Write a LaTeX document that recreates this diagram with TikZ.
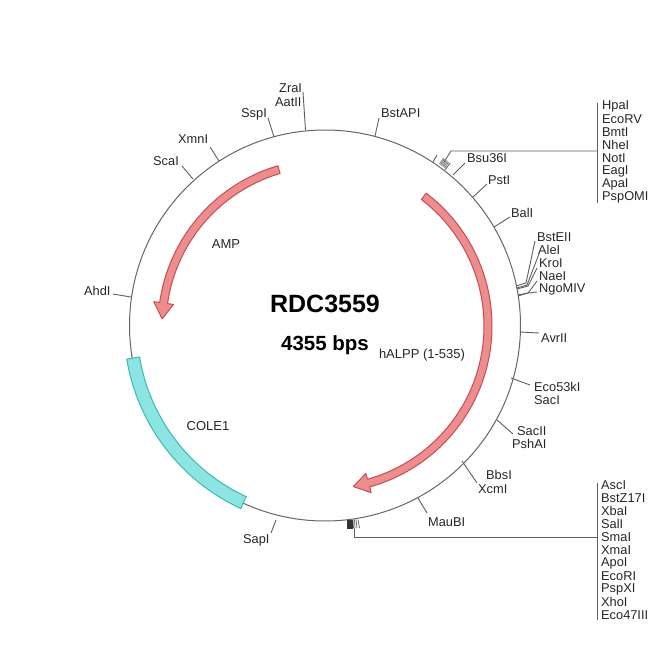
\documentclass[tikz,border=0pt]{standalone}
\usepackage{fontspec}
\setmainfont{Liberation Sans}
\definecolor{ringc}{HTML}{666666}
\definecolor{tickc}{HTML}{5F5F5F}
\definecolor{redfill}{HTML}{EC8E8E}
\definecolor{redline}{HTML}{CB4A54}
\definecolor{tealfill}{HTML}{8CE5E2}
\definecolor{tealline}{HTML}{3DB8B4}
\tikzset{
  x=1pt,y=-1pt,
  ring/.style={draw=ringc,line width=1pt},
  tick/.style={draw=tickc,line width=0.9pt},
  site/.style={font=\fontsize{12.8}{15}\selectfont,text=black!85,inner sep=0pt,anchor=west},
  featlabel/.style={font=\fontsize{13}{15}\selectfont,text=black!85,inner sep=0pt},
  feat/.style={draw=redline,fill=redfill,line width=1pt,line join=round},
  ori/.style={draw=tealline,fill=tealfill,line width=1pt,line join=miter},
  title/.style={font=\bfseries\fontsize{25}{28}\selectfont,inner sep=0pt},
  subtitle/.style={font=\bfseries\fontsize{20.5}{24}\selectfont,inner sep=0pt},
}
\newcommand{\sitetick}[5]{\coordinate (#1a) at (#2,#3); \coordinate (#1b) at (#4,#5); \draw[tick] (#1a) -- (#1b);}
\begin{document}
\begin{tikzpicture}
\useasboundingbox (0,0) rectangle (650,650);
\fill[white] (0,0) rectangle (650,650);
% ring
\draw[ring] (325,325.5) circle[radius=195.5];
% AMP arrow
\draw[feat] plot[domain=253.6:188.1,samples=50] ({325+167*cos(\x)},{326+167*sin(\x)})
  -- ({325+173*cos(188.1)},{326+173*sin(188.1)})
  -- ({325+163*cos(182.5)},{326+163*sin(182.5)})
  -- ({325+153*cos(188.1)},{326+153*sin(188.1)})
  -- ({325+159*cos(188.1)},{326+159*sin(188.1)})
  -- plot[domain=188.1:253.6,samples=50] ({325+159*cos(\x)},{326+159*sin(\x)}) -- cycle;
% hALPP arrow
\draw[feat] plot[domain=-52.7:74.5,samples=90] ({325+167*cos(\x)},{326+167*sin(\x)})
  -- ({325+173*cos(74.5)},{326+173*sin(74.5)})
  -- ({325+163*cos(80)},{326+163*sin(80)})
  -- ({325+153*cos(74.5)},{326+153*sin(74.5)})
  -- ({325+159*cos(74.5)},{326+159*sin(74.5)})
  -- plot[domain=74.5:-52.7,samples=90] ({325+159*cos(\x)},{326+159*sin(\x)}) -- cycle;
% COLE1
\draw[ori] plot[domain=170.5:114.8,samples=50] ({325+201*cos(\x)},{326+201*sin(\x)})
  -- plot[domain=114.8:170.5,samples=50] ({325+188*cos(\x)},{326+188*sin(\x)}) -- cycle;
% centre text
\node[title] (name) at (325,304) {RDC3559};
\node[subtitle] (size) at (325,345) {4355 bps};
\node[featlabel] (amp) at (226,244) {AMP};
\node[featlabel] (halpp) at (422,355) {hALPP (1-535)};
\node[featlabel] (cole) at (208,426) {COLE1};
% single sites
\sitetick{zr}{305.5}{130}{303}{92}
\node[site] (zra) at (279,88) {ZraI};
\node[site] (aat) at (275,102) {AatII};
\sitetick{ss}{274}{137}{268}{118}
\node[site] (ssp) at (241,114) {SspI};
\sitetick{xm}{219}{161}{210}{147}
\node[site] (xmn) at (178,139) {XmnI};
\sitetick{sc}{193}{179}{182}{166}
\node[site] (sca) at (153,161) {ScaI};
\sitetick{ah}{131}{297}{113}{294}
\node[site] (ahd) at (84,291) {AhdI};
\sitetick{bs}{375}{136}{379}{118}
\node[site] (bst) at (381,113) {BstAPI};
\sitetick{bu}{453}{175}{465}{163}
\node[site] (bsu) at (467,158) {Bsu36I};
\sitetick{ps}{473}{197}{487}{184}
\node[site] (pst) at (488,180) {PstI};
\sitetick{ba}{494}{227}{510}{217}
\node[site] (bal) at (511,213) {BalI};
\sitetick{av}{520}{332}{539}{333}
\node[site] (avr) at (541,338) {AvrII};
\sitetick{ec}{511}{378}{530}{385}
\node[site] (eco) at (534,387) {Eco53kI};
\node[site] (sac) at (534,400) {SacI};
\sitetick{sa}{497}{420}{513}{434}
\node[site] (sacii) at (517,431) {SacII};
\node[site] (psh) at (512,444) {PshAI};
\sitetick{bb}{462}{461}{477}{483}
\node[site] (bbs) at (486,475) {BbsI};
\node[site] (xcm) at (478,489) {XcmI};
\sitetick{ma}{418}{498}{427}{513}
\node[site] (mau) at (428,522) {MauBI};
\sitetick{sp}{276}{520}{271}{533}
\node[site] (sap) at (243,540) {SapI};
% right cluster
\draw[tick] (516,286) -- (526,283) -- (535,241);
\draw[tick] (517,288) -- (527,285) -- (539,254);
\draw[tick] (517,289) -- (528,286) -- (537,268);
\draw[tick] (518,295) -- (528,293) -- (537,281);
\draw[tick] (518,296) -- (528,293) -- (537,292);
\node[site] (bste) at (537,237) {BstEII};
\node[site] (ale) at (538,250) {AleI};
\node[site] (kro) at (539,263) {KroI};
\node[site] (nae) at (539,276) {NaeI};
\node[site] (ngo) at (539,289) {NgoMIV};
% top multi group
\draw[tick] (433,162) -- (437,155);
\foreach \d in {0,1,...,5}
  \draw[tick,draw=tickc!75] ({439.5+\d},{164+0.8*\d}) -- ({443.5+\d},{158+0.8*\d});
\draw[tick] (445,170) -- (450,163);
\coordinate (topa) at (444,162);
\coordinate (topb) at (451,151);
\coordinate (topc) at (597,151);
\draw[tick] (topa) -- (topb) -- (topc);
\draw[tick] (597,103) -- (597,203);
\foreach \n/\t [count=\i from 0] in {hp/HpaI,er/EcoRV,bm/BmtI,nh/NheI,no/NotI,ea/EagI,ap/ApaI,pp/PspOMI}
  \node[site] (\n) at (602,{106+13.1*\i}) {\t};
% bottom multi group
\fill[black!80] (347,519.5) rectangle (352.5,529);
\foreach \xa/\xb in {353/353.5,354.5/355,356/357,358/359.5}
  \draw[tick,line width=0.7pt] (\xa,519.5) -- (\xb,528);
\coordinate (bota) at (354,528);
\coordinate (botb) at (354,537);
\coordinate (botc) at (597,537);
\draw[tick] (bota) -- (botb) -- (botc);
\draw[tick] (597,483) -- (597,620);
\foreach \n/\t [count=\i from 0] in {as/AscI,bz/BstZ17I,xb/XbaI,sl/SalI,sm/SmaI,xa/XmaI,ao/ApoI,ei/EcoRI,px/PspXI,xh/XhoI,e4/Eco47III}
  \node[site] (\n) at (601,{485+13*\i}) {\t};
\end{tikzpicture}
\end{document}
